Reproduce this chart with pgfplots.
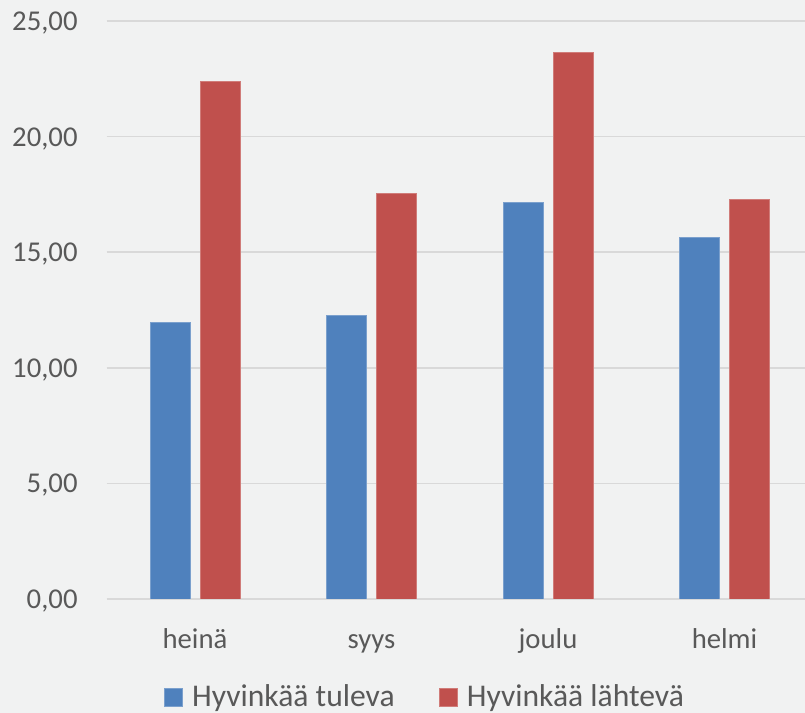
\documentclass[border=0pt]{standalone}
\usepackage{pgfplots}
\pgfplotsset{compat=1.18}
\usepackage{fontspec}
\setmainfont{Carlito}
\definecolor{bg}{HTML}{F1F2F2}
\definecolor{gridc}{HTML}{D9D9D9}
\definecolor{txt}{HTML}{595959}
\definecolor{cblue}{HTML}{4F81BD}
\definecolor{cred}{HTML}{C0504D}
\begin{document}
\begin{tikzpicture}
\path[use as bounding box, fill=bg] (0,0) rectangle (402.5pt,356.5pt);
\begin{axis}[
  at={(53.375pt,57pt)}, anchor=south west,
  scale only axis, width=349.125pt, height=289pt,
  ybar=5pt, bar width=20pt,
  xmin=-0.5, xmax=3.456, ymin=0, ymax=25,
  xtick={0,1,2,3}, xticklabels={heinä,syys,joulu,helmi},
  ytick={0,5,...,25},
  axis line style={draw=none},
  major tick length=0pt,
  xmajorgrids=false, ymajorgrids=true,
  major grid style={draw=gridc, line width=0.8pt},
  /pgf/number format/.cd, fixed, fixed zerofill, precision=2, use comma, assume math mode=true,
  /pgfplots/.cd,
  tick label style={font=\fontsize{14.35pt}{16pt}\selectfont, text=txt, inner sep=0pt},
  yticklabel style={anchor=base east, xshift=-14.4pt, yshift=-4.75pt},
  xticklabel style={anchor=base, yshift=-25pt},
  legend columns=2,
  legend style={at={(0.0814,-0.1700)}, anchor=west, draw=none, fill=none,
    font=\fontsize{15.8pt}{18pt}\selectfont, text=txt, inner sep=0pt,
    nodes={inner sep=0pt},
    /tikz/every odd column/.append style={column sep=4.5pt},
    /tikz/every even column/.append style={column sep=22pt}},
  legend image code/.code={\fill[#1] (0pt,-4.6pt) rectangle (9.2pt,4.6pt);},
]
\addplot[fill=cblue, draw=cblue!75!white, line width=0.4pt] coordinates {(0,11.96) (1,12.28) (2,17.14) (3,15.65)};
\addplot[fill=cred, draw=cred!75!white, line width=0.4pt] coordinates {(0,22.40) (1,17.56) (2,23.64) (3,17.30)};
\legend{Hyvinkää tuleva, Hyvinkää lähtevä}
\end{axis}
\end{tikzpicture}
\end{document}
